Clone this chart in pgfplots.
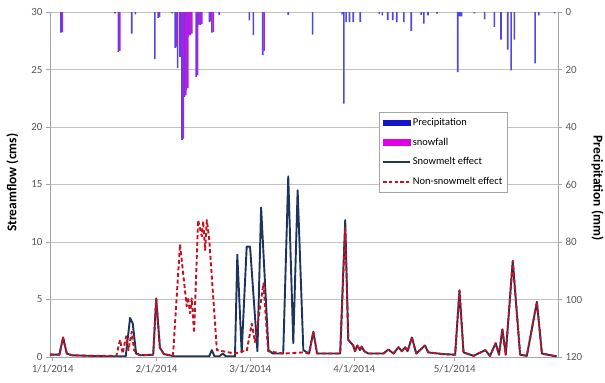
\documentclass[border=0pt]{standalone}
\usepackage{fontspec}
\setmainfont{Carlito}
\usepackage{pgfplots}
\pgfplotsset{compat=1.18}
\definecolor{precipc}{RGB}{20,20,205}
\definecolor{snowc}{RGB}{225,0,225}
\definecolor{precipbar}{RGB}{80,70,225}
\definecolor{snowbar}{RGB}{180,30,225}
\definecolor{meltc}{RGB}{30,52,92}
\definecolor{nonmeltc}{RGB}{200,16,30}
\definecolor{gridc}{RGB}{195,195,195}
\definecolor{axc}{RGB}{165,165,165}
\definecolor{tickc}{RGB}{89,89,89}

\pgfplotstableread{
x y
0 0.2
2.8 0.2
3.9 1.7
5.0 0.3
6.5 0.15
12 0.1
18 0.05
22.6 0.05
23.9 3.4
24.7 2.9
25.7 0.3
27 0.15
30.8 0.2
31.7 5.1
32.8 0.8
34 0.25
36.5 0.1
37 0.05
47.5 0.05
48.3 0.6
49.1 0.05
50.5 0.05
51.6 0.3
52.5 0.05
55.2 0.05
55.9 8.9
57.2 0.4
58.7 9.6
59.7 9.6
61.9 0.5
63.0 13.0
65.2 0.6
66.5 0.3
69.6 0.3
71.1 15.7
72.6 1.2
73.9 14.5
75.6 0.6
77.3 0.3
78.6 2.2
79.7 0.3
86.6 0.3
88.1 11.9
89.0 1.5
90.5 1.0
91.0 0.5
91.7 1.0
92.5 0.6
93.0 0.9
93.8 0.5
95 0.3
99.5 0.3
101.0 0.65
102.5 0.3
104.0 0.85
105.0 0.5
106.0 0.85
106.7 0.5
108.0 1.7
109.3 0.3
111.9 1.0
112.9 0.4
117.4 0.25
120.9 0.2
122.2 5.8
123.4 0.4
126.4 0.1
129.9 0.6
131.3 0.1
133.0 1.2
134.0 0.2
135.0 2.4
136.0 0.2
138.1 8.35
140.3 0.2
142.3 0.1
145.3 4.8
146.8 0.3
151.2 0.05
}\melt

\pgfplotstableread{
x y
0 0.2
2.8 0.2
3.9 1.7
5.0 0.3
6.5 0.15
12 0.1
19.8 0.1
20.9 1.5
21.7 0.3
22.7 1.8
23.4 0.6
24.4 2.2
25.1 0.6
25.9 0.3
27 0.15
30.8 0.2
31.7 5.1
32.8 0.8
34 0.25
36.7 0.1
38.8 9.8
40.8 4.4
41.2 5.2
41.8 3.8
42.3 5.1
43.0 2.1
44.2 11.9
45.3 10.5
45.7 11.8
46.3 9.3
46.8 11.9
47.5 10.3
49.8 0.6
51.6 0.5
55.2 0.3
57.6 0.5
58.7 0.5
60.2 2.9
61.2 1.3
63.7 6.4
65.1 0.5
69.6 0.3
75.5 0.4
77.3 0.3
78.6 2.2
79.7 0.3
86.6 0.3
88.1 11.3
89.0 1.5
90.5 1.0
91.0 0.5
91.7 1.0
92.5 0.6
93.0 0.9
93.8 0.5
95 0.3
99.5 0.3
101.0 0.65
102.5 0.3
104.0 0.85
105.0 0.5
106.0 0.85
106.7 0.5
108.0 1.7
109.3 0.3
111.9 1.0
112.9 0.4
117.4 0.25
120.9 0.2
122.2 5.8
123.4 0.4
126.4 0.1
129.9 0.6
131.3 0.1
133.0 1.2
134.0 0.2
135.0 2.4
136.0 0.2
138.1 8.35
140.3 0.2
142.3 0.1
145.3 4.8
146.8 0.3
151.2 0.05
}\nonmelt

\pgfplotstableread{
x y
3.5 7.2
19.6 0.5
20.6 13.9
24.6 7.5
25.7 0.8
31.5 16.4
32.5 2.0
36.7 0.5
37.6 12.5
38.3 19.5
39.0 15.6
39.6 44.6
40.3 29.5
40.9 27.2
41.5 8.5
42.1 8.0
43.8 22.6
44.5 4.5
45.1 4.5
47.8 3.5
48.5 7.2
50.7 1.0
59.7 2.9
60.9 8.0
63.7 15.0
71.3 1.0
78.6 7.9
87.4 0.8
87.9 31.9
88.6 3.5
89.6 3.5
90.7 3.5
92.8 3.5
98.5 0.7
99.4 1.2
101.0 2.8
102.5 2.8
103.7 3.5
105.8 3.5
108.0 6.6
111.0 1.0
111.8 4.0
113.0 1.2
115.7 0.6
121.9 20.9
122.5 1.5
123.0 1.5
126.9 0.5
129.9 2.6
132.8 5.2
134.8 9.6
136.8 13.1
137.8 20.3
138.8 9.6
145.0 17.9
146.1 1.2
150.8 0.5
}\precip

\pgfplotstableread{
x y
3.5 7.0
20.6 13.5
32.5 1.8
37.6 12.0
39.0 15.0
39.6 44.0
40.3 29.0
40.9 26.5
41.5 8.0
42.1 7.5
43.8 22.0
44.5 4.2
45.1 4.2
47.8 3.2
48.5 7.0
63.7 13.5
}\snow

\begin{document}
\begin{tikzpicture}
\begin{axis}[
  at={(0bp,0bp)}, anchor=south west,
  scale only axis, width=508bp, height=345bp,
  xmin=0, xmax=151.6, ymin=0, ymax=30,
  axis x line*=bottom, axis y line*=left,
  x axis line style={-, draw=axc, line width=0.8bp},
  y axis line style={-, draw=axc, line width=0.8bp},
  ytick={0,5,...,30},
  xtick={0.8,31.8,59.8,90.8,120.8},
  xticklabels={1/1/2014,2/1/2014,3/1/2014,4/1/2014,5/1/2014},
  ymajorgrids, grid style={draw=gridc, line width=0.9bp},
  tick align=outside, major tick length=4bp,
  tick style={draw=axc, line width=0.8bp},
  ticklabel style={font=\fontsize{11}{13}\selectfont, text=tickc},
  /pgf/number format/assume math mode=true,
  ylabel={Streamflow (cms)},
  ylabel style={font=\fontsize{13.5}{15}\selectfont\bfseries, at={(axis description cs:-0.074,0.505)}, anchor=center},
]
\addplot[meltc, line width=1.9bp, line join=round] table[x=x,y=y] {\melt};
\addplot[nonmeltc, line width=1.9bp, dash pattern=on 4bp off 2.6bp, line join=round] table[x=x,y=y] {\nonmelt};
\end{axis}
\begin{axis}[
  at={(0bp,0bp)}, anchor=south west,
  scale only axis, width=508bp, height=345bp,
  xmin=0, xmax=151.6, ymin=0, ymax=120, y dir=reverse,
  axis y line*=right, axis x line=none,
  y axis line style={-, draw=axc, line width=0.8bp},
  ytick={0,20,...,120},
  tick align=outside, major tick length=4bp,
  tick style={draw=axc, line width=0.8bp},
  ticklabel style={font=\fontsize{11}{13}\selectfont, text=tickc},
  /pgf/number format/assume math mode=true,
  ylabel={Precipitation (mm)},
  ylabel style={font=\fontsize{13.5}{15}\selectfont\bfseries, at={(axis description cs:1.078,0.49)}, anchor=center, rotate=180},
  legend style={at={(0.648,0.71)}, anchor=north west, draw=axc, fill=white,
    font=\fontsize{10.5}{12}\selectfont, row sep=7bp, inner xsep=3bp, inner ysep=4bp},
  legend cell align=left,
  legend image code/.code={\draw[#1] (0bp,0bp) -- (27bp,0bp);},
]
\addplot[ybar, bar width=1.6bp, bar shift=-0.7bp, fill=precipbar, draw=none, forget plot] table[x=x,y=y] {\precip};
\addplot[ybar, bar width=1.6bp, bar shift=0.7bp, fill=snowbar, draw=none, forget plot] table[x=x,y=y] {\snow};
\addlegendimage{legend image code/.code={\fill[precipc] (0bp,-2.8bp) rectangle (27bp,2.8bp);}}
\addlegendentry{Precipitation}
\addlegendimage{legend image code/.code={\fill[snowc] (0bp,-2.8bp) rectangle (27bp,2.8bp);}}
\addlegendentry{snowfall}
\addlegendimage{meltc, line width=1.5bp}
\addlegendentry{Snowmelt effect}
\addlegendimage{nonmeltc, line width=1.5bp, dash pattern=on 3.5bp off 2.2bp}
\addlegendentry{Non-snowmelt effect}
\end{axis}
\pgfresetboundingbox
\path[use as bounding box] (-50bp,-26bp) rectangle (555bp,357bp);
\end{tikzpicture}
\end{document}
